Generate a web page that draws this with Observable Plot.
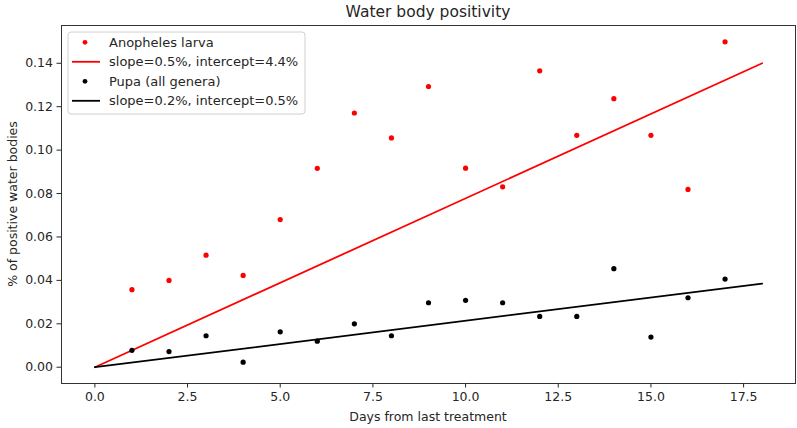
<!DOCTYPE html>
<html>
<head>
<meta charset="utf-8">
<script src="https://cdn.jsdelivr.net/npm/d3@7"></script>
<script src="https://cdn.jsdelivr.net/npm/@observablehq/plot@0.6"></script>
<style>
  body { margin: 0; background: #fff; }
  #chart { width: 797px; height: 428px; }
  #chart svg { font-family: "DejaVu Sans", sans-serif; }
</style>
</head>
<body>
<div id="chart"></div>
<script>
// valores
const days = [1, 2, 3, 4, 5, 6, 7, 8, 9, 10, 11, 12, 13, 14, 15, 16, 17]
const larva = [0.0357, 0.0400, 0.0516, 0.0423, 0.0680, 0.0916, 0.1171, 0.1056, 0.1293,
               0.0917, 0.0831, 0.1365, 0.1068, 0.1237, 0.1068, 0.0819, 0.1499]
const pupa = [0.0078, 0.0072, 0.0145, 0.0023, 0.0163, 0.0120, 0.0200, 0.0145, 0.0297,
              0.0308, 0.0297, 0.0234, 0.0234, 0.0454, 0.0139, 0.0320, 0.0406]
const fitDays = [0, 18]
const larvaFit = [0, 0.1400]
const pupaFit = [0, 0.0385]
const xTicks = [0, 2.5, 5, 7.5, 10, 12.5, 15, 17.5]
const yTicks = [0, 0.02, 0.04, 0.06, 0.08, 0.10, 0.12, 0.14]
const legendLabels = ["Anopheles larva", "slope=0.5%, intercept=4.4%", "Pupa (all genera)", "slope=0.2%, intercept=0.5%"]

const ink = "#262626"
const fs = 12.5

const chart = Plot.plot({
  width: 797,
  height: 428,
  marginLeft: 61,
  marginRight: 2,
  marginTop: 25,
  marginBottom: 45,
  x: { domain: [-0.9, 18.9] },
  y: { domain: [-0.0075, 0.1574] },
  style: { fontFamily: "DejaVu Sans, sans-serif", color: ink },
  marks: [
    Plot.line(fitDays, { x: d => d, y: (d, i) => larvaFit[i], stroke: "red", strokeWidth: 1.8 }),
    Plot.line(fitDays, { x: d => d, y: (d, i) => pupaFit[i], stroke: "black", strokeWidth: 1.8 }),
    Plot.dot(days, { x: d => d, y: (d, i) => larva[i], r: 2.6, fill: "red" }),
    Plot.dot(days, { x: d => d, y: (d, i) => pupa[i], r: 2.6, fill: "black" }),
    Plot.frame({ stroke: "#333", strokeWidth: 1 }),
    Plot.axisX({ ticks: xTicks, tickFormat: d3.format(".1f"), tickSize: 4.5, tickPadding: 4, fontSize: fs, label: null, stroke: ink }),
    Plot.axisY({ ticks: yTicks, tickFormat: d3.format(".2f"), tickSize: 4.5, tickPadding: 4, fontSize: fs, label: null, stroke: ink })
  ]
})

const svg = d3.select(chart)

// titulo y etiquetas de ejes
svg.append("text").attr("x", 428).attr("y", 12).attr("text-anchor", "middle")
  .attr("dominant-baseline", "central").attr("font-size", 15.5).attr("fill", ink)
  .text("Water body positivity")
svg.append("text").attr("x", 428).attr("y", 416).attr("text-anchor", "middle")
  .attr("dominant-baseline", "central").attr("font-size", fs).attr("fill", ink)
  .text("Days from last treatment")
svg.append("text").attr("transform", "translate(12,204) rotate(-90)").attr("text-anchor", "middle")
  .attr("dominant-baseline", "central").attr("font-size", fs).attr("fill", ink)
  .text("% of positive water bodies")

// leyenda
const lg = svg.append("g")
lg.append("rect").attr("x", 68).attr("y", 32).attr("width", 237).attr("height", 82).attr("rx", 3)
  .attr("fill", "white").attr("fill-opacity", 0.8).attr("stroke", "#d0d0d0")
const colors = ["red", "red", "black", "black"]
legendLabels.forEach((t, i) => {
  const cy = 42.3 + i * 19.5
  if (i % 2 === 0) {
    lg.append("circle").attr("cx", 85).attr("cy", cy).attr("r", 2.4).attr("fill", colors[i])
  } else {
    lg.append("line").attr("x1", 72).attr("x2", 100).attr("y1", cy).attr("y2", cy)
      .attr("stroke", colors[i]).attr("stroke-width", 1.8)
  }
  lg.append("text").attr("x", 109).attr("y", cy).attr("text-anchor", "start")
    .attr("dominant-baseline", "central").attr("font-size", 13).attr("fill", ink).text(t)
})

d3.select("#chart").append(() => chart)
</script>
</body>
</html>
